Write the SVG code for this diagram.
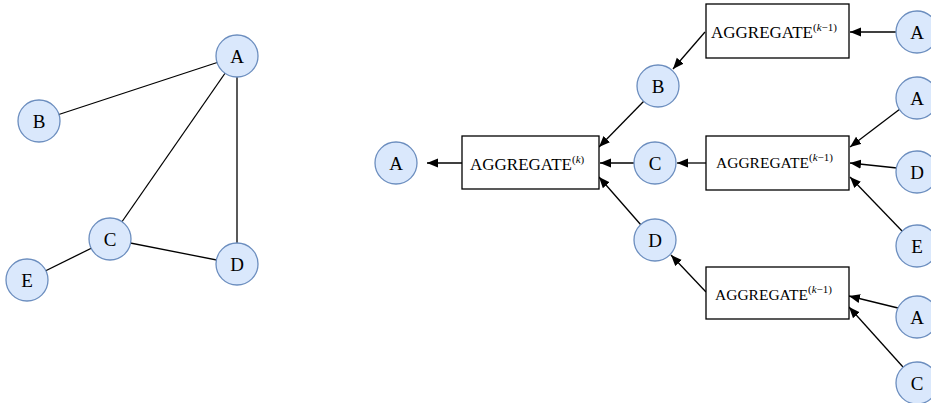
<svg xmlns="http://www.w3.org/2000/svg" width="931" height="403" viewBox="0 0 931 403">
<style>
.n{fill:#dae8fc;stroke:#6c8ebf;stroke-width:1.3}
.b{fill:#fff;stroke:#000;stroke-width:1.3}
.t{font-family:"Liberation Serif","DejaVu Serif",serif;font-size:19px;fill:#000;text-anchor:middle}
.g{font-family:"Liberation Serif","DejaVu Serif",serif;font-size:17px;fill:#000}
.g2{font-family:"Liberation Serif","DejaVu Serif",serif;font-size:15.5px;fill:#000}
.s{font-size:11px}
.e{stroke:#000;stroke-width:1.3;fill:none}
.a{stroke:#000;stroke-width:1.3;fill:none;marker-end:url(#ah)}
</style>
<defs>
<marker id="ah" markerUnits="userSpaceOnUse" markerWidth="12" markerHeight="10" refX="11" refY="4.5" orient="auto">
<path d="M0,0 L11,4.5 L0,9 z" fill="#000"/>
</marker>
</defs>
<g id="connectors">
<line class="e" x1="237" y1="56" x2="39" y2="121"/>
<line class="e" x1="237" y1="56" x2="110" y2="239"/>
<line class="e" x1="237" y1="56" x2="237" y2="264"/>
<line class="e" x1="110" y1="239" x2="237" y2="264"/>
<line class="e" x1="110" y1="239" x2="27" y2="280"/>
<line class="a" x1="462" y1="163" x2="427" y2="163"/>
<line class="a" x1="634" y1="163" x2="600" y2="163"/>
<line class="a" x1="706" y1="163" x2="677" y2="163"/>
<line class="a" x1="896" y1="32" x2="850" y2="32"/>
<line class="a" x1="705" y1="32" x2="673" y2="69"/>
<line class="a" x1="644" y1="101" x2="599" y2="147"/>
<line class="a" x1="641" y1="225" x2="599" y2="177"/>
<line class="a" x1="706" y1="292" x2="671" y2="255"/>
<line class="a" x1="900" y1="109" x2="850" y2="147"/>
<line class="a" x1="897" y1="168" x2="850" y2="163"/>
<line class="a" x1="903" y1="232" x2="850" y2="177"/>
<line class="a" x1="898" y1="308" x2="849" y2="296"/>
<line class="a" x1="903" y1="367" x2="849" y2="307"/>
</g>
<g id="gA"><circle class="n" cx="237" cy="56" r="21"/><text class="t" x="237" y="62.5">A</text></g>
<g id="gB"><circle class="n" cx="39" cy="121" r="21"/><text class="t" x="39" y="127.5">B</text></g>
<g id="gC"><circle class="n" cx="110" cy="239" r="21"/><text class="t" x="110" y="245.5">C</text></g>
<g id="gD"><circle class="n" cx="237" cy="264" r="21"/><text class="t" x="237" y="270.5">D</text></g>
<g id="gE"><circle class="n" cx="27" cy="280" r="21"/><text class="t" x="27" y="286.5">E</text></g>

<g id="rA"><circle class="n" cx="396" cy="163" r="21"/><text class="t" x="396" y="169.5">A</text></g>
<g id="aggK"><rect class="b" x="462" y="136" width="137" height="53"/><text class="g" x="470" y="169.5">AGGREGATE<tspan class="s" dy="-7">(<tspan font-style="italic">k</tspan>)</tspan></text></g>
<g id="rB"><circle class="n" cx="658" cy="86" r="21"/><text class="t" x="658" y="92.5">B</text></g>
<g id="rC"><circle class="n" cx="655" cy="163" r="21"/><text class="t" x="655" y="169.5">C</text></g>
<g id="rD"><circle class="n" cx="655" cy="240" r="21"/><text class="t" x="655" y="246.5">D</text></g>
<g id="aggTop"><rect class="b" x="706" y="4" width="143" height="54"/><text class="g" x="711" y="38">AGGREGATE<tspan class="s" dy="-7">(<tspan font-style="italic">k</tspan>−1)</tspan></text></g>
<g id="aggMid"><rect class="b" x="706" y="136" width="143" height="54"/><text class="g2" x="716" y="167.5">AGGREGATE<tspan class="s" dy="-7">(<tspan font-style="italic">k</tspan>−1)</tspan></text></g>
<g id="aggBot"><rect class="b" x="706" y="267" width="143" height="52"/><text class="g2" x="715" y="300">AGGREGATE<tspan class="s" dy="-7">(<tspan font-style="italic">k</tspan>−1)</tspan></text></g>
<g id="tA"><circle class="n" cx="917" cy="32" r="21"/><text class="t" x="917" y="38.5">A</text></g>
<g id="mA"><circle class="n" cx="917" cy="98" r="21"/><text class="t" x="917" y="104.5">A</text></g>
<g id="mD"><circle class="n" cx="917" cy="172" r="21"/><text class="t" x="917" y="178.5">D</text></g>
<g id="mE"><circle class="n" cx="917" cy="246" r="21"/><text class="t" x="917" y="252.5">E</text></g>
<g id="bA"><circle class="n" cx="917" cy="317" r="21"/><text class="t" x="917" y="323.5">A</text></g>
<g id="bC"><circle class="n" cx="917" cy="383" r="21"/><text class="t" x="917" y="389.5">C</text></g>
</svg>
